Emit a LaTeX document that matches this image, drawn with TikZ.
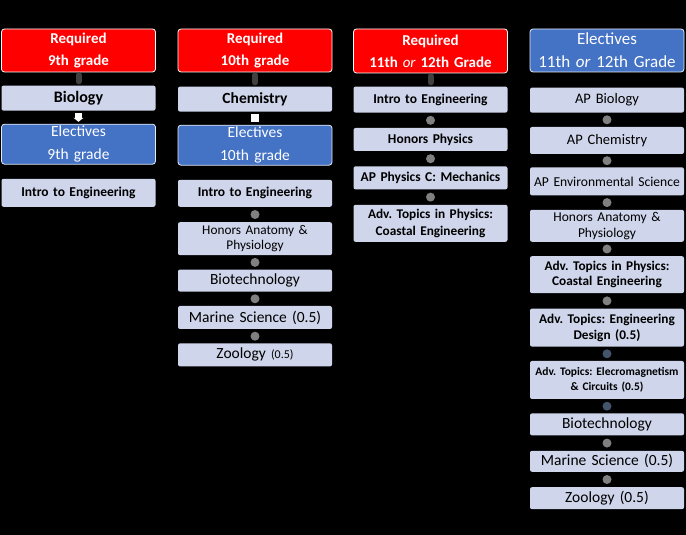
\documentclass[tikz,border=0pt]{standalone}
\usepackage{fontspec}
\setmainfont{Carlito}
\usetikzlibrary{arrows.meta, positioning}
\frenchspacing
\definecolor{reqred}{HTML}{FF0000}
\definecolor{eleblue}{HTML}{4472C4}
\definecolor{coursefill}{HTML}{CFD5EA}
\definecolor{dotgray}{HTML}{808080}
\definecolor{dotblue}{HTML}{44546A}
\definecolor{linkdark}{HTML}{404040}
\tikzset{
    header/.style={
        rectangle, rounded corners=3pt,
        draw=white, line width=0.8pt,
        minimum width=154pt, minimum height=43pt,
        text width=152pt, inner sep=1pt,
        align=center, text=white
    },
    reqhead/.style={header, fill=reqred, font=\fontsize{15}{22}\selectfont\bfseries},
    elehead/.style={header, fill=eleblue, draw=white!85!eleblue, font=\fontsize{15.5}{23}\selectfont},
    course/.style={
        rectangle, rounded corners=2pt,
        fill=coursefill,
        minimum width=154pt, text width=152pt, inner sep=1pt,
        align=center, text=black, font=\fontsize{15.5}{18}\selectfont
    },
    boldcourse/.style={course, font=\fontsize{13.5}{17}\selectfont\bfseries},
    dot/.style={circle, fill=dotgray, minimum size=9pt, inner sep=0pt},
    bluedot/.style={dot, fill=dotblue},
    reqlink/.style={draw=linkdark, line width=6pt, line cap=round, shorten <=3pt, shorten >=4pt},
    whitearrow/.style={draw=white, line width=7pt, shorten <=2pt, shorten >=2pt, -{Triangle[width=10pt,length=4pt]}}
}
\begin{document}
\begin{tikzpicture}[x=1pt, y=1pt, node distance=14pt]
    \fill[black] (0,0) rectangle (686,535);
    \useasboundingbox (0,0) rectangle (686,535);

    % 9th grade
    \node[reqhead] (req9) at (78.5,484.5) {Required\\9th grade};
    \node[boldcourse, font=\fontsize{16}{18}\selectfont\bfseries, minimum height=25pt, below=13pt of req9] (bio9) {Biology};
    \node[elehead, minimum height=40pt, below=13pt of bio9] (ele9) {Electives\\9th grade};
    \node[boldcourse, minimum height=28pt, below=of ele9] (eng9) {Intro to Engineering};

    % 10th grade
    \node[reqhead] (req10) at (255,484.5) {Required\\10th grade};
    \node[boldcourse, font=\fontsize{15.5}{18}\selectfont\bfseries, minimum height=25pt, below=of req10] (chem10) {Chemistry};
    \node[elehead, minimum height=40pt, below=13pt of chem10] (ele10) {Electives\\10th grade};
    \node[boldcourse, minimum height=27pt, below=of ele10] (eng10) {Intro to Engineering};
    \node[course, font=\fontsize{13.3}{15}\selectfont, minimum height=33pt, below=15pt of eng10] (anat10) {Honors Anatomy \&\\Physiology};
    \node[course, minimum height=22pt, below=of anat10] (biot10) {Biotechnology};
    \node[course, minimum height=23pt, below=of biot10] (mar10) {Marine Science (0.5)};
    \node[course, minimum height=23pt, below=of mar10] (zoo10) {Zoology {\fontsize{12}{14}\selectfont(0.5)}};

    % 11th or 12th grade, required
    \node[reqhead, minimum height=44pt] (req11) at (430.5,484) {Required\\11th {\mdseries\itshape or} 12th Grade};
    \node[boldcourse, minimum height=26pt, below=13pt of req11] (eng11) {Intro to Engineering};
    \node[boldcourse, minimum height=23pt, below=15pt of eng11] (hphys11) {Honors Physics};
    \node[boldcourse, minimum height=23pt, below=15pt of hphys11] (apc11) {AP Physics C: Mechanics};
    \node[boldcourse, font=\fontsize{13.3}{17}\selectfont\bfseries, minimum height=37pt, below=15pt of apc11] (adv11) {Adv. Topics in Physics:\\Coastal Engineering};

    % 11th or 12th grade, electives
    \node[elehead, font=\fontsize{17}{23}\selectfont] (ele12) at (607,484.5) {Electives\\11th \textit{or} 12th Grade};
    \node[course, font=\fontsize{14.5}{17}\selectfont, minimum height=25pt, below=15pt of ele12] (apbio12) {AP Biology};
    \node[course, font=\fontsize{14.5}{17}\selectfont, minimum height=27pt, below=of apbio12] (apchem12) {AP Chemistry};
    \node[course, font=\fontsize{13.6}{16}\selectfont, minimum height=28pt, below=13pt of apchem12] (apenv12) {AP Environmental Science};
    \node[course, font=\fontsize{13.5}{16}\selectfont, minimum height=32pt, below=of apenv12] (anat12) {Honors Anatomy \&\\Physiology};
    \node[boldcourse, font=\fontsize{13.3}{15.5}\selectfont\bfseries, minimum height=37pt, below=of anat12] (adv12) {Adv. Topics in Physics:\\Coastal Engineering};
    \node[boldcourse, font=\fontsize{13.3}{16}\selectfont\bfseries, minimum height=38pt, below=15pt of adv12] (des12) {Adv. Topics: Engineering\\Design (0.5)};
    \node[boldcourse, font=\fontsize{11.5}{15}\selectfont\bfseries, minimum height=38pt, below=of des12] (emag12) {Adv. Topics: Elecromagnetism\\\& Circuits (0.5)};
    \node[course, minimum height=22pt, below=of emag12] (biot12) {Biotechnology};
    \node[course, minimum height=21pt, below=15pt of biot12] (mar12) {Marine Science (0.5)};
    \node[course, minimum height=22pt, below=15pt of mar12] (zoo12) {Zoology (0.5)};

    % connectors
    \draw[reqlink] (req9) -- (bio9);
    \draw[reqlink] (req10) -- (chem10);
    \draw[reqlink] (req11) -- (eng11);
    \draw[whitearrow] (bio9.south) -- (ele9.north);
    \path (chem10.south) -- (ele10.north) node[midway, fill=white, minimum size=8pt, inner sep=0pt] (sq10) {};
    \foreach \a/\b in {eng10/anat10, anat10/biot10, biot10/mar10, mar10/zoo10,
        eng11/hphys11, hphys11/apc11, apc11/adv11,
        apbio12/apchem12, apchem12/apenv12, apenv12/anat12, anat12/adv12, adv12/des12,
        biot12/mar12, mar12/zoo12}
        \path (\a.south) -- (\b.north) node[midway, dot] {};
    \foreach \a/\b in {des12/emag12, emag12/biot12}
        \path (\a.south) -- (\b.north) node[midway, bluedot] {};
\end{tikzpicture}
\end{document}
